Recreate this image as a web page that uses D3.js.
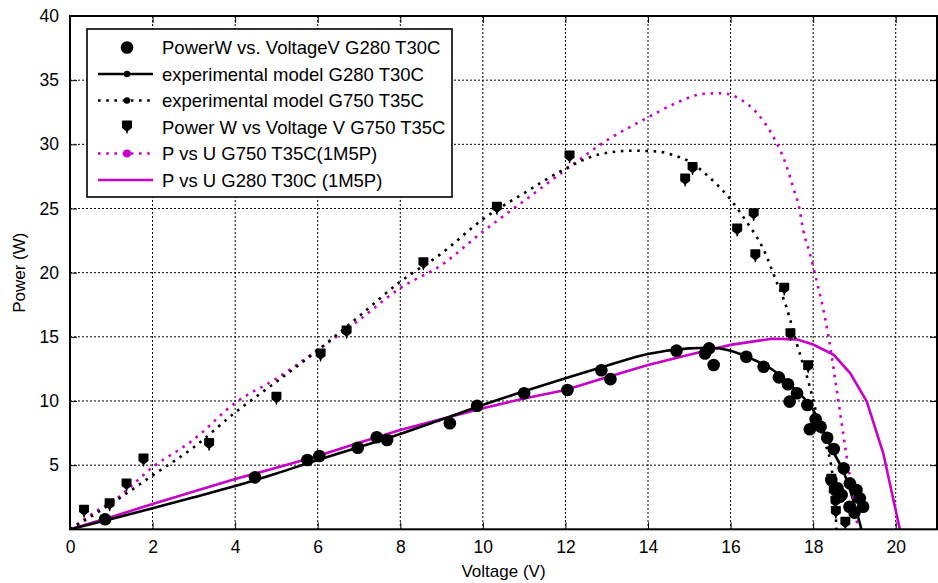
<!DOCTYPE html>
<html>
<head>
<meta charset="utf-8">
<script src="https://cdn.jsdelivr.net/npm/d3@7"></script>
<style>
  html, body { margin: 0; padding: 0; background: #fff; }
  svg { display: block; font-family: "Liberation Sans", Arial, sans-serif; }
</style>
</head>
<body>
<svg id="chart" width="938" height="583"></svg>
<script>
// Measured and modelled P–U curves of a PV panel at two irradiance / temperature points.
const g280Measured = [
  [0.85,0.78],[4.48,4.05],[5.75,5.4],[6.04,5.71],[6.97,6.35],[7.43,7.17],[7.68,6.96],
  [9.2,8.26],[9.86,9.63],[11.0,10.6],[12.05,10.86],[12.87,12.4],[13.09,11.7],
  [14.69,13.92],[15.38,13.7],[15.48,14.1],[15.59,12.8],[16.38,13.45],[16.8,12.67],
  [17.17,11.84],[17.39,11.3],[17.61,10.6],[17.43,9.95],[17.86,9.69],[18.06,8.57],
  [17.92,7.8],[18.18,8.0],[18.34,7.14],[18.5,6.26],[18.44,3.84],[18.59,3.2],
  [18.64,2.54],[18.69,2.67],[18.74,4.75],[18.89,3.58],[19.05,3.06],[19.13,2.42],
  [19.21,1.76],[18.88,1.76],[19.0,1.3]
];
const g750Measured = [
  [0.34,1.5],[0.96,2.0],[1.37,3.53],[1.78,5.48],[3.37,6.7],[5.0,10.3],[6.07,13.66],
  [6.7,15.46],[8.56,20.78],[10.34,25.1],[12.1,29.1],[14.9,27.3],[15.08,28.2],
  [16.16,23.4],[16.56,24.6],[16.6,21.4],[17.3,18.8],[17.45,15.25],[17.88,12.75],
  [18.44,3.9],[18.5,3.0],[18.54,2.2],[18.55,1.4],[18.78,0.55]
];
const g280Model = [
  [0,0],[1,0.8],[2,1.64],[3,2.5],[4,3.37],[5,4.35],[6,5.4],[7,6.4],[8,7.43],[9,8.55],
  [10,9.69],[11,10.75],[12,11.77],[13,12.75],[14,13.66],[15,14.1],[15.5,14.15],
  [16,13.92],[16.5,13.3],[17,12.47],[17.5,11.1],[18,9.3],[18.5,5.95],[18.7,4.75],
  [18.97,2.28],[19.17,0]
];
const g750Model = [
  [0,0],[1,2.0],[2,4.2],[3,6.4],[4,9.1],[5,11.5],[6,13.95],[7,16.6],[8,19.3],[9,21.5],
  [10,24.16],[11,26.2],[12,28.1],[12.8,29.2],[13.6,29.5],[14.2,29.45],[14.6,29.17],
  [15.0,28.66],[15.46,27.5],[16,25.7],[16.38,24.0],[16.8,21.8],[17.1,19.4],
  [17.35,17.35],[17.6,14.5],[17.92,11.1],[18.04,9.56],[18.16,8.0],[18.32,6.44],
  [18.44,4.88],[18.54,1.76],[18.56,0]
];
const g750Sim1M5P = [
  [0,0],[0.56,1.25],[1.13,2.4],[2,4.83],[3,7.0],[4,9.85],[5,11.75],[6,13.97],[7,16.3],
  [8,18.8],[9,20.6],[10,23.2],[11,25.6],[12,28.0],[13,30.3],[14,32.1],[14.6,33.1],
  [15.4,33.95],[15.8,33.98],[16.24,33.5],[16.65,32.4],[17.05,30.5],[17.3,28.8],
  [17.54,26.4],[17.66,25.1],[17.76,23.3],[17.92,21.5],[18.04,19.95],[18.12,18.9],
  [18.3,16.3],[18.44,13.7],[18.56,11.1],[18.68,8.5],[18.8,5.9],[18.93,3.3],
  [19.05,0.72],[19.1,0]
];
const g280Sim1M5P = [
  [0,0],[1,0.95],[2,1.97],[3,2.95],[4,3.92],[5,4.8],[6,5.71],[7,6.75],[8,7.74],[9,8.6],
  [10,9.43],[11,10.2],[12,10.86],[13,11.85],[14,12.8],[15,13.6],[16,14.37],[17,14.85],
  [17.6,14.8],[18,14.4],[18.5,13.6],[18.9,12.15],[19.3,9.95],[19.7,5.9],[20.1,0]
];
const xTicks = [0,2,4,6,8,10,12,14,16,18,20];
const yTicks = [5,10,15,20,25,30,35,40];
const legendLabels = [
  "PowerW vs. VoltageV G280 T30C",
  "experimental model G280 T30C",
  "experimental model G750 T35C",
  "Power W vs Voltage V G750 T35C",
  "P vs U G750 T35C(1M5P)",
  "P vs U G280 T30C (1M5P)"
];

const MAGENTA = "#c800c8";
const plot = { left: 70, right: 937, top: 16, bottom: 529.3 };
const svg = d3.select("#chart");

const x = d3.scaleLinear().domain([0, 21]).range([plot.left, plot.right]);
const y = d3.scaleLinear().domain([0, 40]).range([plot.bottom, plot.top]);

// dotted grid
const grid = svg.append("g");
grid.selectAll("line.vx").data(xTicks.filter(d => d > 0)).join("line")
  .attr("x1", d => x(d)).attr("x2", d => x(d))
  .attr("y1", plot.top).attr("y2", plot.bottom)
  .attr("stroke", "#000").attr("stroke-width", 1).attr("stroke-dasharray", "2,2");
grid.selectAll("line.hy").data(yTicks.filter(d => d < 40)).join("line")
  .attr("x1", plot.left).attr("x2", plot.right)
  .attr("y1", d => y(d)).attr("y2", d => y(d))
  .attr("stroke", "#000").attr("stroke-width", 1).attr("stroke-dasharray", "2,2");

const smooth = d3.line().x(d => x(d[0])).y(d => y(d[1])).curve(d3.curveMonotoneX);
const straight = d3.line().x(d => x(d[0])).y(d => y(d[1]));

svg.append("clipPath").attr("id", "plotclip").append("rect")
  .attr("x", plot.left).attr("y", plot.top)
  .attr("width", plot.right - plot.left).attr("height", plot.bottom - plot.top);
const area = svg.append("g").attr("clip-path", "url(#plotclip)");

// curves
area.append("path").datum(g280Sim1M5P).attr("d", straight)
  .attr("fill", "none").attr("stroke", MAGENTA).attr("stroke-width", 2.6);
area.append("path").datum(g280Model).attr("d", smooth)
  .attr("fill", "none").attr("stroke", "#000").attr("stroke-width", 2.6);
area.append("path").datum(g750Sim1M5P).attr("d", smooth)
  .attr("fill", "none").attr("stroke", MAGENTA).attr("stroke-width", 2.6)
  .attr("stroke-dasharray", "2.6,5.6");
area.append("path").datum(g750Model).attr("d", smooth)
  .attr("fill", "none").attr("stroke", "#000").attr("stroke-width", 2.6)
  .attr("stroke-dasharray", "2.6,5.6");

// measured points
const shield = "M-5,-4.8 Q-5,-5.4 -4.3,-5.4 H4.3 Q5,-5.4 5,-4.8 V2 L1.1,5 L0.5,7.5 L-0.5,7.5 L-1.1,5 L-5,2 Z";
area.selectAll("path.g750pt").data(g750Measured).join("path")
  .attr("d", shield)
  .attr("transform", d => `translate(${x(d[0])},${y(d[1])})`)
  .attr("fill", "#000");
area.selectAll("circle.g280pt").data(g280Measured).join("circle")
  .attr("cx", d => x(d[0])).attr("cy", d => y(d[1])).attr("r", 6.3)
  .attr("fill", "#000");

// axes box with inward ticks
const axes = svg.append("g");
const bottomAxis = d3.axisBottom(x).tickValues(xTicks).tickSize(-7).tickPadding(11)
  .tickFormat(d3.format("d"));
const topAxis = d3.axisTop(x).tickValues(xTicks).tickSize(-7).tickFormat("");
const leftAxis = d3.axisLeft(y).tickValues(yTicks).tickSize(-7).tickPadding(11)
  .tickFormat(d3.format("d"));
const rightAxis = d3.axisRight(y).tickValues(yTicks).tickSize(-7).tickFormat("");

function styleAxis(g) {
  g.select(".domain").remove();
  g.selectAll(".tick line").attr("stroke", "#000").attr("stroke-width", 1);
  g.selectAll(".tick text").attr("fill", "#000").attr("font-size", 17.5)
    .attr("font-family", "Liberation Sans, Arial, sans-serif");
}
axes.append("g").attr("transform", `translate(0,${plot.bottom})`).call(bottomAxis).call(styleAxis);
axes.append("g").attr("transform", `translate(0,${plot.top})`).call(topAxis).call(styleAxis);
axes.append("g").attr("transform", `translate(${plot.left},0)`).call(leftAxis).call(styleAxis);
axes.append("g").attr("transform", `translate(${plot.right},0)`).call(rightAxis).call(styleAxis);

axes.append("rect")
  .attr("x", plot.left).attr("y", plot.top)
  .attr("width", plot.right - plot.left).attr("height", plot.bottom - plot.top)
  .attr("fill", "none").attr("stroke", "#000").attr("stroke-width", 2);

// axis titles
svg.append("text").attr("x", (plot.left + plot.right) / 2).attr("y", 577)
  .attr("text-anchor", "middle").attr("font-size", 17).text("Voltage (V)");
svg.append("text")
  .attr("transform", `translate(25,${(plot.top + plot.bottom) / 2}) rotate(-90)`)
  .attr("text-anchor", "middle").attr("font-size", 17).text("Power (W)");

// legend
const lg = svg.append("g");
lg.append("rect").attr("x", 87).attr("y", 29).attr("width", 365).attr("height", 168)
  .attr("fill", "#fff").attr("stroke", "#000").attr("stroke-width", 1.6);
const rowY = i => 47.5 + i * 26.5;
const symX0 = 98, symX1 = 153, symC = 127, textX = 162;

// row 0: big dot
lg.append("circle").attr("cx", symC).attr("cy", rowY(0)).attr("r", 6.3).attr("fill", "#000");
// row 1: solid black with dot
lg.append("line").attr("x1", symX0).attr("x2", symX1).attr("y1", rowY(1)).attr("y2", rowY(1))
  .attr("stroke", "#000").attr("stroke-width", 2.6);
lg.append("circle").attr("cx", symC).attr("cy", rowY(1)).attr("r", 3.2).attr("fill", "#000");
// row 2: dotted black with dot
lg.append("line").attr("x1", symX0).attr("x2", symX1).attr("y1", rowY(2)).attr("y2", rowY(2))
  .attr("stroke", "#000").attr("stroke-width", 2.6).attr("stroke-dasharray", "2.6,5.6");
lg.append("circle").attr("cx", symC).attr("cy", rowY(2)).attr("r", 3.2).attr("fill", "#000");
// row 3: shield marker
lg.append("path").attr("d", shield).attr("transform", `translate(${symC},${rowY(3) - 1})`).attr("fill", "#000");
// row 4: dotted magenta with dot
lg.append("line").attr("x1", symX0).attr("x2", symX1).attr("y1", rowY(4)).attr("y2", rowY(4))
  .attr("stroke", MAGENTA).attr("stroke-width", 2.6).attr("stroke-dasharray", "2.6,5.6");
lg.append("circle").attr("cx", symC).attr("cy", rowY(4)).attr("r", 4).attr("fill", MAGENTA);
// row 5: solid magenta
lg.append("line").attr("x1", symX0).attr("x2", symX1).attr("y1", rowY(5)).attr("y2", rowY(5))
  .attr("stroke", MAGENTA).attr("stroke-width", 2.6);

lg.selectAll("text.lbl").data(legendLabels).join("text")
  .attr("x", textX).attr("y", (d, i) => rowY(i) + 6.5)
  .attr("font-size", 18.5).attr("fill", "#000").text(d => d);
</script>
</body>
</html>
